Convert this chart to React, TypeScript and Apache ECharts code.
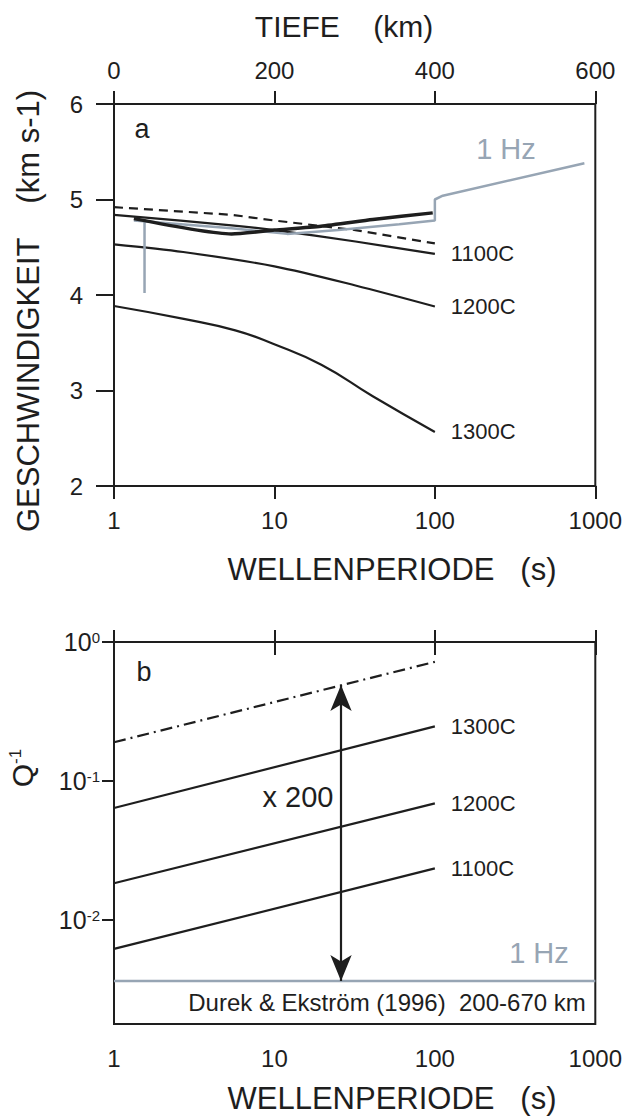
import React, { useEffect, useRef } from "react";
import * as echarts from "echarts";

const FONT = "Liberation Sans, Arial, Helvetica, sans-serif";
const INK = "#1e1e1e";
const GRAY = "#97a5b4";

// ---------- Panel a: velocity vs. wave period ----------
const periodTicks = [1, 10, 100, 1000];
const depthTicks = [0, 200, 400, 600];

const T_dashed = [1, 5.4, 10, 32, 100];
const V_dashed = [4.92, 4.84, 4.78, 4.68, 4.54];

const T_1100 = [1, 5.4, 10, 32, 100];
const V_1100 = [4.84, 4.73, 4.68, 4.56, 4.43];

const T_1200 = [1, 2.7, 10, 32, 100];
const V_1200 = [4.53, 4.45, 4.3, 4.1, 3.88];

const T_1300 = [1, 2.72, 5.7, 9.8, 19.6, 41, 100];
const V_1300 = [3.885, 3.75, 3.63, 3.49, 3.27, 2.94, 2.566];

const T_obs = [1.33, 5.4, 10, 19.5, 41, 97];
const V_obs = [4.8, 4.64, 4.68, 4.72, 4.79, 4.86];

const T_1hz = [1.33, 5.4, 12, 25, 60, 100, 100, 112, 855];
const V_1hz = [4.78, 4.7, 4.64, 4.68, 4.74, 4.78, 5.0, 5.04, 5.38];

const T_bar = [1.55, 1.55];
const V_bar = [4.79, 4.02];

// ---------- Panel b: Q^-1 vs. wave period ----------
const T_q = [1, 100];
const Q_dashdot = [0.19, 0.72];
const Q_1300 = [0.064, 0.247];
const Q_1200 = [0.0184, 0.069];
const Q_1100 = [0.0062, 0.0235];
const T_durek = [1, 1000];
const Q_durek = [0.00364, 0.00364];
const arrowT = 26;
const arrowQ = [0.49, 0.00364];
const qExpTicks = [-2, -1, 0];

const zip = (xs: number[], ys: number[]) => xs.map((x, i) => [x, ys[i]]);
const zipLog = (xs: number[], ys: number[]) => xs.map((x, i) => [x, Math.log10(ys[i])]);

const txt = (text: string, x: number, y: number, size: number, extra: any = {}) => ({
  type: "text",
  x,
  y,
  silent: true,
  style: {
    text,
    fontSize: size,
    fontFamily: FONT,
    fill: INK,
    align: "center",
    verticalAlign: "middle",
    ...extra,
  },
});

export default function App() {
  const ref = useRef<HTMLDivElement>(null);

  useEffect(() => {
    if (!ref.current) return;
    const chart = echarts.init(ref.current, undefined, { renderer: "svg" });

    const axisLine = { show: true, lineStyle: { color: INK, width: 2 } };
    const labelBase = { fontSize: 24, fontFamily: FONT, color: INK };

    const lineSeries = (
      name: string,
      data: number[][],
      xi: number,
      yi: number,
      style: any,
      endLabel = false,
      smooth: number | boolean = false
    ) => ({
      type: "line",
      name,
      xAxisIndex: xi,
      yAxisIndex: yi,
      data,
      symbol: "none",
      smooth,
      silent: true,
      lineStyle: { color: INK, width: 2.2, ...style },
      endLabel: endLabel
        ? { show: true, formatter: name, distance: 16, fontSize: 22, fontFamily: FONT, color: INK }
        : { show: false },
      z: 3,
    });

    const option: any = {
      animation: false,
      backgroundColor: "#ffffff",
      grid: [
        { left: 114, top: 104, width: 484, height: 382, show: true, borderColor: INK, borderWidth: 2 },
        { left: 114, top: 642, width: 484, height: 382, show: true, borderColor: INK, borderWidth: 2 },
      ],
      xAxis: [
        {
          type: "log",
          logBase: 10,
          gridIndex: 0,
          min: periodTicks[0],
          max: periodTicks[periodTicks.length - 1],
          position: "bottom",
          axisLine,
          axisTick: { show: true, length: 13, lineStyle: { color: INK, width: 2 } },
          minorTick: { show: false },
          splitLine: { show: false },
          axisLabel: { ...labelBase, margin: 22, formatter: (v: number) => String(v) },
        },
        {
          type: "value",
          gridIndex: 0,
          min: depthTicks[0],
          max: depthTicks[depthTicks.length - 1],
          interval: 200,
          position: "top",
          axisLine,
          axisTick: { show: true, length: 13, lineStyle: { color: INK, width: 2 } },
          splitLine: { show: false },
          axisLabel: { ...labelBase, margin: 22 },
        },
        {
          type: "log",
          logBase: 10,
          gridIndex: 1,
          min: periodTicks[0],
          max: periodTicks[periodTicks.length - 1],
          position: "bottom",
          axisLine,
          axisTick: { show: true, length: 13, lineStyle: { color: INK, width: 2 } },
          minorTick: { show: false },
          splitLine: { show: false },
          axisLabel: { ...labelBase, margin: 22, formatter: (v: number) => String(v) },
        },
        {
          type: "log",
          logBase: 10,
          gridIndex: 1,
          min: periodTicks[0],
          max: periodTicks[periodTicks.length - 1],
          position: "top",
          axisLine,
          axisTick: { show: true, length: 12, lineStyle: { color: INK, width: 2 } },
          minorTick: { show: false },
          splitLine: { show: false },
          axisLabel: { show: false },
        },
      ],
      yAxis: [
        {
          type: "value",
          gridIndex: 0,
          min: 2,
          max: 6,
          interval: 1,
          axisLine,
          axisTick: { show: true, length: 18, lineStyle: { color: INK, width: 2 } },
          splitLine: { show: false },
          axisLabel: { ...labelBase, margin: 31 },
        },
        {
          type: "value",
          gridIndex: 1,
          min: -2.748,
          max: 0,
          axisLine,
          axisTick: { show: true, length: 12, customValues: qExpTicks, lineStyle: { color: INK, width: 2 } },
          splitLine: { show: false },
          axisLabel: {
            ...labelBase,
            margin: 14,
            customValues: qExpTicks,
            formatter: (v: number) => `{b|10}{s|${Math.round(v)}}`,
            rich: {
              b: { fontSize: 25, fontFamily: FONT, color: INK, verticalAlign: "bottom" },
              s: { fontSize: 15, fontFamily: FONT, color: INK, verticalAlign: "top" },
            },
          },
        },
      ],
      series: [
        lineSeries("dashed", zip(T_dashed, V_dashed), 0, 0, { type: [9, 6], width: 2.2 }),
        lineSeries("1100C", zip(T_1100, V_1100), 0, 0, {}, true, 0.3),
        lineSeries("1200C", zip(T_1200, V_1200), 0, 0, {}, true, 0.3),
        lineSeries("1300C", zip(T_1300, V_1300), 0, 0, {}, true, 0.5),
        lineSeries("1 Hz", zip(T_1hz, V_1hz), 0, 0, { color: GRAY, width: 2.5 }),
        lineSeries("1 Hz bar", zip(T_bar, V_bar), 0, 0, { color: GRAY, width: 2.5 }),
        lineSeries("obs", zip(T_obs, V_obs), 0, 0, { width: 3.5 }, false, 0.2),
        lineSeries("dashdot", zipLog(T_q, Q_dashdot), 2, 1, { type: [12, 5, 2, 5], width: 2.2 }),
        lineSeries("1300C", zipLog(T_q, Q_1300), 2, 1, {}, true),
        lineSeries("1200C", zipLog(T_q, Q_1200), 2, 1, {}, true),
        lineSeries("1100C", zipLog(T_q, Q_1100), 2, 1, {}, true),
        {
          ...lineSeries("Durek 1 Hz", zipLog(T_durek, Q_durek), 2, 1, { color: GRAY, width: 2.5 }),
          markLine: {
            silent: true,
            symbol: ["arrow", "arrow"],
            symbolSize: [16, 26],
            label: { show: false },
            lineStyle: { color: INK, width: 2.2, type: "solid" },
            data: [
              [
                { coord: [arrowT, Math.log10(arrowQ[0])] },
                { coord: [arrowT, Math.log10(arrowQ[1])] },
              ],
            ],
          },
        },
      ],
      graphic: [
        txt("TIEFE    (km)", 344, 26, 30),
        txt("a", 142, 129, 27),
        txt("1 Hz", 506, 149, 29, { fill: GRAY }),
        txt("WELLENPERIODE   (s)", 392, 569, 31),
        {
          ...txt("GESCHWINDIGKEIT    (km s-1)", 28, 311, 31),
          rotation: Math.PI / 2,
        },
        txt("b", 144, 672, 27),
        txt("x 200", 298, 797, 29),
        txt("1 Hz", 539, 953, 29, { fill: GRAY }),
        txt("Durek & Ekström (1996)  200-670 km", 387, 1002, 24),
        txt("WELLENPERIODE   (s)", 392, 1098, 31),
        {
          type: "text",
          x: 22,
          y: 768,
          rotation: Math.PI / 2,
          silent: true,
          style: {
            text: "{q|Q}{s|-1}",
            align: "center",
            verticalAlign: "middle",
            rich: {
              q: { fontSize: 30, fontFamily: FONT, fill: INK, verticalAlign: "bottom" },
              s: { fontSize: 17, fontFamily: FONT, fill: INK, verticalAlign: "top" },
            },
          },
        },
      ],
    };

    chart.setOption(option);
    return () => chart.dispose();
  }, []);

  return (
    <div
      ref={ref}
      style={{ position: "absolute", left: 0, top: 0, width: 625, height: 1116, background: "#fff" }}
    />
  );
}
